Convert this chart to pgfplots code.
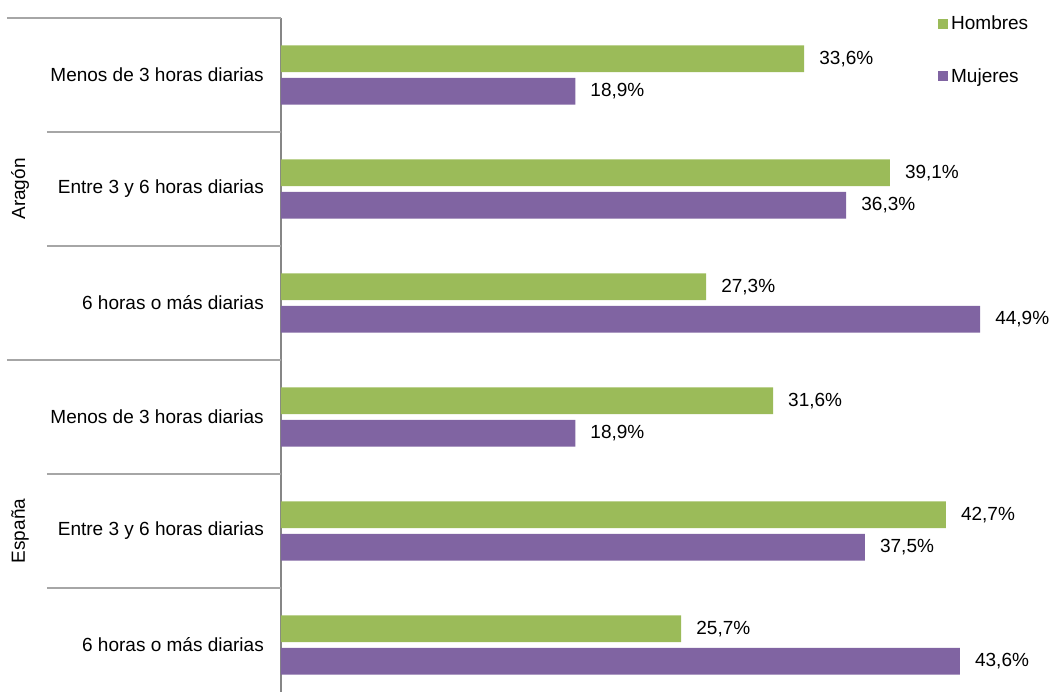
\documentclass[border=0pt]{standalone}
\usepackage{fontspec}
\setmainfont{Liberation Sans}
\usepackage{pgfplots}
\pgfplotsset{compat=1.18}

\definecolor{hombres}{HTML}{9BBB59}
\definecolor{mujeres}{HTML}{8064A2}
\definecolor{axisgray}{HTML}{868686}
\definecolor{sepgray}{HTML}{A6A6A6}
\newcommand{\bigfont}{\fontsize{19}{23}\selectfont}

\begin{document}
\begin{tikzpicture}
\path[use as bounding box] (0,0) rectangle (1050pt,692pt);
\begin{axis}[%
  at={(281pt,-10pt)}, anchor=south west,
  scale only axis, width=747.4pt, height=684pt,
  xbar, bar width=26.7pt,
  xmin=0, xmax=48,
  ymin=0.5, ymax=6.5,
  hide x axis,
  axis y line*=left,
  axis line style={-},
  y axis line style={draw=axisgray, line width=2pt, -},
  ytick={1,...,6},
  yticklabels={6 horas o más diarias, Entre 3 y 6 horas diarias, Menos de 3 horas diarias,
               6 horas o más diarias, Entre 3 y 6 horas diarias, Menos de 3 horas diarias},
  major tick length=0pt,
  ytick style={draw=none},
  yticklabel style={font=\bigfont, anchor=east, inner sep=0pt, xshift=-17pt},
  point meta=x,
  nodes near coords={\pgfmathprintnumber[fixed,fixed zerofill,precision=1,use comma]{\pgfplotspointmeta}\%},
  nodes near coords style={font=\bigfont, anchor=west, inner sep=0pt, xshift=15pt, text=black},
  /pgf/number format/assume math mode=true,
  clip=false,
  legend image code/.code={\fill[#1] (0pt,-5pt) rectangle (10pt,5pt);},
  legend style={at={(axis description cs:0.879,1.0073)}, anchor=north west,
                draw=none, fill=none, font=\bigfont, row sep=31pt,
                inner sep=0pt, nodes={inner sep=3pt}},
  legend cell align=left,
  ]

  % Aragon: y = 6,5,4 ; Espana: y = 3,2,1
  \addplot [draw=none, fill=hombres, bar shift=16.2pt] coordinates {
    (33.6,6) (39.1,5) (27.3,4)
    (31.6,3) (42.7,2) (25.7,1)
  };
  \addlegendentry{Hombres}

  \addplot [draw=none, fill=mujeres, bar shift=-16.2pt] coordinates {
    (18.9,6) (36.3,5) (44.9,4)
    (18.9,3) (37.5,2) (43.6,1)
  };
  \addlegendentry{Mujeres}

  % separators on the left
  \draw[sepgray, line width=1.5pt] (axis cs:-17.6,6.5) -- (axis cs:0,6.5);
  \draw[sepgray, line width=1.5pt] (axis cs:-15.03,5.5) -- (axis cs:0,5.5);
  \draw[sepgray, line width=1.5pt] (axis cs:-15.03,4.5) -- (axis cs:0,4.5);
  \draw[sepgray, line width=1.5pt] (axis cs:-17.6,3.5) -- (axis cs:0,3.5);
  \draw[sepgray, line width=1.5pt] (axis cs:-15.03,2.5) -- (axis cs:0,2.5);
  \draw[sepgray, line width=1.5pt] (axis cs:-15.03,1.5) -- (axis cs:0,1.5);

  \node[rotate=90, font=\bigfont, inner sep=0pt] at (axis cs:-16.76,5) {Aragón};
  \node[rotate=90, font=\bigfont, inner sep=0pt] at (axis cs:-16.76,2) {España};
\end{axis}
\end{tikzpicture}
\end{document}
